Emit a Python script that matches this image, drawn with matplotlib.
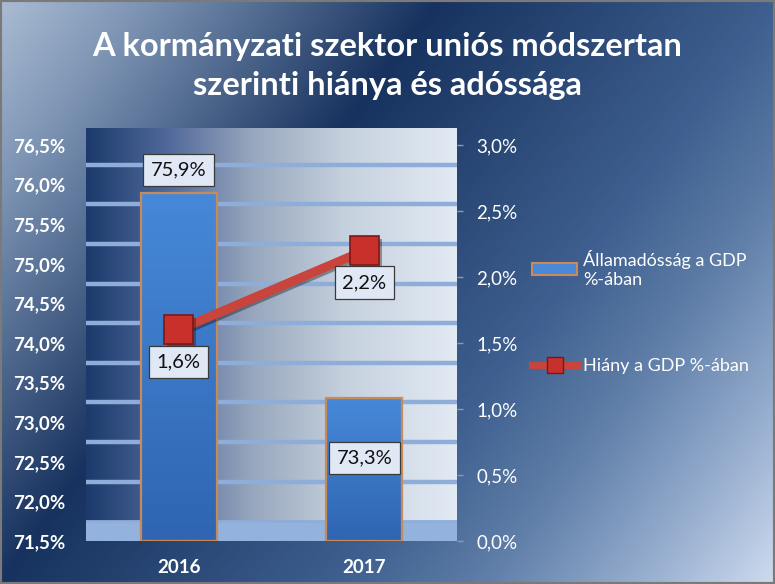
import numpy as np
import matplotlib
matplotlib.use("Agg")
import matplotlib.pyplot as plt
from matplotlib.colors import LinearSegmentedColormap
from matplotlib.patches import Patch, Rectangle
from matplotlib.lines import Line2D
from matplotlib.ticker import FuncFormatter
import matplotlib.patheffects as pe

# ---- data ----
years = ["2016", "2017"]
debt = [75.9, 73.3]          # Államadósság a GDP %-ában (left axis)
deficit = [1.6, 2.2]         # Hiány a GDP %-ában (right axis)
debt_label = "Államadósság a GDP\n%-ában"
deficit_label = "Hiány a GDP %-ában"
title = "A kormányzati szektor uniós módszertan\nszerinti hiánya és adóssága"

plt.rcParams['font.family'] = ['Lato', 'DejaVu Sans']

W, H = 775, 584
fig = plt.figure(figsize=(W / 100, H / 100), dpi=100)

# ---- figure background gradient (diagonal) ----
bg = fig.add_axes([0, 0, 1, 1], zorder=-10)
bg.set_axis_off()
yy, xx = np.mgrid[0:H, 0:W]
t = (xx * W + yy * H) / (W * W + H * H)
bg_cmap = LinearSegmentedColormap.from_list("bg", [
    (0.0, "#aabcd3"), (0.12, "#7c93b3"), (0.36, "#17325e"),
    (0.64, "#3e5f8f"), (0.76, "#5f7ea8"), (0.89, "#97aecf"), (1.0, "#cddbee")])
bg.imshow(t, cmap=bg_cmap, aspect='auto', extent=(0, 1, 0, 1), origin='upper')
bg.set_xlim(0, 1); bg.set_ylim(0, 1)
bg.add_patch(Rectangle((0, 0), 1, 1, transform=bg.transAxes, fill=False,
                       ec="#7a7a7a", lw=3))

# ---- main axes ----
ax = fig.add_axes([86 / W, 1 - 541 / H, 371 / W, 413 / H])
x = np.arange(len(years))
ax.set_xlim(-0.5, 1.5)
ytop = 76.5 + 17 / 79.2
ax.set_ylim(71.5, ytop)

# plot area gradient (horizontal)
pa_cmap = LinearSegmentedColormap.from_list("pa", [
    (0.0, "#1c3a6c"), (0.22, "#50699a"), (0.45, "#98a7bd"),
    (0.7, "#c6d1de"), (1.0, "#e2eaf4")])
grad = np.linspace(0, 1, 256)[None, :]
ax.imshow(grad, cmap=pa_cmap, aspect='auto',
          extent=(-0.5, 1.5, 71.5, ytop), zorder=0)

# floor band and gridlines (offset like the 3-D back wall)
ax.axhspan(71.5, 71.75, color="#93b2dd", zorder=1, lw=0)
for v in np.arange(72.25, 76.5, 0.5):
    ax.axhline(v, color="#8eadd8", lw=3.2, zorder=1)
ax.axhline(71.75, color="#8eadd8", lw=2, zorder=1)

# bars
bw = 0.41
bars = ax.bar(x, [d - 71.5 for d in debt], bottom=71.5, width=bw,
              color="#3d7bcc", zorder=3, lw=0)
bar_cmap = LinearSegmentedColormap.from_list("bar", ["#2f65b2", "#4689d8"])
for b in bars:
    x0, y0 = b.get_x(), b.get_y()
    x1, y1 = x0 + b.get_width(), y0 + b.get_height()
    g = np.linspace(0, 1, 256)[:, None]
    im = ax.imshow(g, cmap=bar_cmap, aspect='auto', extent=(x0, x1, y0, y1),
                   origin='lower', zorder=3.2)
    im.set_clip_path(b)
ax.bar(x, [d - 71.5 for d in debt], bottom=71.5, width=bw, fill=False,
       edgecolor="#c88a58", lw=1.6, zorder=3.5)

ax.set_xticks(x)
ax.set_xticklabels(years, fontsize=13.5, fontweight='bold', color='white')
ax.tick_params(axis='x', length=0, pad=13)
fmt = FuncFormatter(lambda v, p: f"{v:.1f}%".replace('.', ','))
ax.set_yticks(np.arange(71.5, 76.51, 0.5))
ax.yaxis.set_major_formatter(fmt)
ax.tick_params(axis='y', length=0, pad=15, labelsize=13.5, labelcolor='white')
for lab in ax.get_yticklabels():
    lab.set_fontweight('bold')
for s in ax.spines.values():
    s.set_visible(False)

# secondary axis: line
ax2 = ax.twinx()
ax2.set_ylim(0, 3.0 * (ytop - 71.5) / 5.0)
ax2.set_yticks(np.arange(0, 3.01, 0.5))
ax2.yaxis.set_major_formatter(fmt)
ax2.tick_params(axis='y', length=4, width=1, color='#8a9ab0', pad=10,
                labelsize=13.5, labelcolor='white')
for s in ax2.spines.values():
    s.set_visible(False)
line_color = "#c9443d"
ax2.plot(x, deficit, color=line_color, lw=6.5, zorder=5, solid_capstyle='butt',
         path_effects=[pe.SimpleLineShadow(offset=(1.5, -1.5), alpha=0.35), pe.Normal()])
ax2.plot(x, deficit, ls='none', marker='s', markersize=21, mfc="#c8312b",
         mec="#7e1712", mew=1.2, zorder=6,
         path_effects=[pe.SimplePatchShadow(offset=(2, -2), alpha=0.4), pe.Normal()])

box = dict(boxstyle='square,pad=0.38', fc='#dfe8f4', ec='#3a3a3a', lw=0.9)
# data labels
ax.annotate(f"{debt[0]:.1f}%".replace('.', ','), (x[0], debt[0]), xytext=(0, 16),
            textcoords='offset points', ha='center', va='center', fontsize=14.5,
            color='#111111', bbox=box, zorder=7)
ax.annotate(f"{debt[1]:.1f}%".replace('.', ','), (x[1], debt[1]), xytext=(0, -43),
            textcoords='offset points', ha='center', va='center', fontsize=14.5,
            color='#111111', bbox=box, zorder=7)
for xi, v in zip(x, deficit):
    ax2.annotate(f"{v:.1f}%".replace('.', ','), (xi, v), xytext=(0, -23),
                 textcoords='offset points', ha='center', va='center', fontsize=14.5,
                 color='#111111', bbox=box, zorder=7)

# legend
handles = [
    Patch(facecolor="#4a88d8", edgecolor="#c88a58", lw=1.5),
    Line2D([], [], color=line_color, lw=5, marker='s', markersize=12,
           mfc="#c8312b", mec="#7e1712"),
]
leg = fig.legend(handles, [debt_label, deficit_label], loc='upper left',
                 bbox_to_anchor=(532 / W, 1 - 250 / H), frameon=False,
                 borderaxespad=0, borderpad=0, fontsize=13,
                 handlelength=2.5, handleheight=0.7, handletextpad=0.35,
                 labelspacing=3.9, labelcolor='white')

# title
fig.text(0.5, 1 - 66 / H, title, ha='center', va='center', fontsize=23.5,
         fontweight='bold', color='white', linespacing=1.45)

fig.savefig("out.png", dpi=100)
